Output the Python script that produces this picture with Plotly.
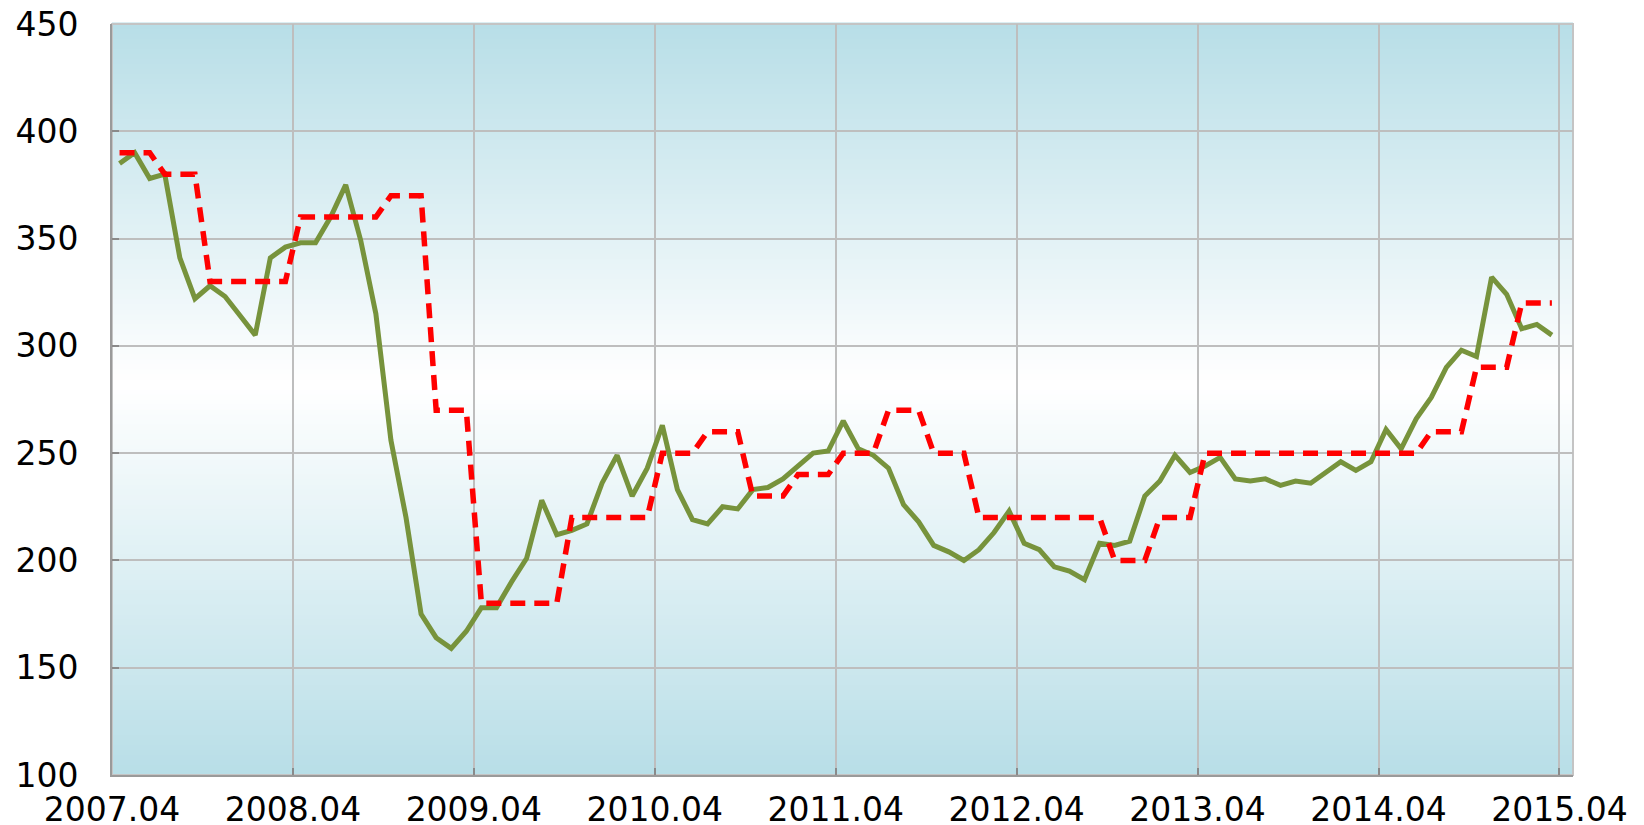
import plotly.graph_objects as go

# Monthly values, 2007.04 .. 2015.03
green_values = [385, 390, 378, 380, 341, 322, 328, 323, 314, 305, 341, 346,
                348, 348, 360, 375, 349, 315, 256, 220, 175, 164, 159, 167,
                178, 178, 190, 201, 228, 212, 214, 217, 236, 249, 230, 243,
                263, 233, 219, 217, 225, 224, 233, 234, 238, 244, 250, 251,
                265, 252, 249, 243, 226, 218, 207, 204, 200, 205, 213, 223,
                208, 205, 197, 195, 191, 208, 207, 209, 230, 237, 249, 241,
                244, 248, 238, 237, 238, 235, 237, 236, 241, 246, 242, 246,
                261, 252, 266, 276, 290, 298, 295, 332, 324, 308, 310, 305]

red_values = [390, 390, 390, 380, 380, 380, 330, 330, 330, 330, 330, 330,
              360, 360, 360, 360, 360, 360, 370, 370, 370, 270, 270, 270,
              180, 180, 180, 180, 180, 180, 220, 220, 220, 220, 220, 220,
              250, 250, 250, 260, 260, 260, 230, 230, 230, 240, 240, 240,
              250, 250, 250, 270, 270, 270, 250, 250, 250, 220, 220, 220,
              220, 220, 220, 220, 220, 220, 200, 200, 200, 220, 220, 220,
              250, 250, 250, 250, 250, 250, 250, 250, 250, 250, 250, 250,
              250, 250, 250, 260, 260, 260, 290, 290, 290, 320, 320, 320]

tick_labels = ["2007.04", "2008.04", "2009.04", "2010.04", "2011.04",
               "2012.04", "2013.04", "2014.04", "2015.04"]
y_ticks = [100, 150, 200, 250, 300, 350, 400, 450]

month_index = list(range(len(green_values)))
tick_positions = [12 * k - 0.5 for k in range(len(tick_labels))]

fig = go.Figure()
fig.add_trace(go.Scatter(x=month_index, y=green_values, mode="lines",
                         line=dict(color="#77933C", width=5),
                         showlegend=False, hoverinfo="skip"))
fig.add_trace(go.Scatter(x=month_index, y=red_values, mode="lines",
                         line=dict(color="#FF0000", width=5.5, dash="15px,9px"),
                         showlegend=False, hoverinfo="skip"))

# vertical gradient background: light blue -> white -> light blue
top = (184, 222, 231)
mid = (255, 255, 255)
mid_pos = 0.52
n = 150
shapes = []
for i in range(n):
    f0 = i / n
    f1 = (i + 1) / n
    fc = (f0 + f1) / 2
    if fc < mid_pos:
        t = fc / mid_pos
    else:
        t = (1 - fc) / (1 - mid_pos)
    c = tuple(round(top[k] + (mid[k] - top[k]) * t) for k in range(3))
    shapes.append(dict(type="rect", xref="x domain", yref="y domain",
                       x0=0, x1=1, y0=f0, y1=f1 + 0.002,
                       fillcolor="rgb(%d,%d,%d)" % c, line=dict(width=0),
                       layer="below"))

# the page body has an 8px margin, so the figure is sized to fit the window
fig.update_layout(
    width=1636, height=817,
    margin=dict(l=104, r=71, t=16, b=50, autoexpand=False),
    paper_bgcolor="white",
    plot_bgcolor="rgba(0,0,0,0)",
    shapes=shapes,
    font=dict(family="DejaVu Sans", color="black", size=33),
)
fig.update_xaxes(range=[-0.5, 96.4], tickvals=tick_positions, ticktext=tick_labels,
                 automargin=False, ticklabeloverflow="allow",
                 showgrid=True, gridcolor="#BEBEBE", gridwidth=2,
                 zeroline=False, showline=True, linecolor="#9A9A9A", linewidth=2,
                 mirror=False, ticks="inside", ticklen=7, tickwidth=2,
                 tickcolor="#8A8A8A", ticklabelstandoff=4,
                 tickfont=dict(family="DejaVu Sans", size=33, color="black"))
fig.update_yaxes(range=[100, 450], tickvals=y_ticks, automargin=False,
                 ticklabeloverflow="allow",
                 showgrid=True, gridcolor="#BEBEBE", gridwidth=2,
                 zeroline=False, showline=True, linecolor="#9A9A9A", linewidth=2,
                 mirror=False, ticks="inside", ticklen=7, tickwidth=2,
                 tickcolor="#8A8A8A", ticklabelstandoff=25,
                 tickfont=dict(family="DejaVu Sans", size=33, color="black"))
# light border on the top and right sides
fig.add_shape(type="rect", xref="x domain", yref="y domain", x0=0, x1=1, y0=0, y1=1,
              line=dict(color="#C4C4C4", width=2), layer="below")

fig.write_html("out.html")
